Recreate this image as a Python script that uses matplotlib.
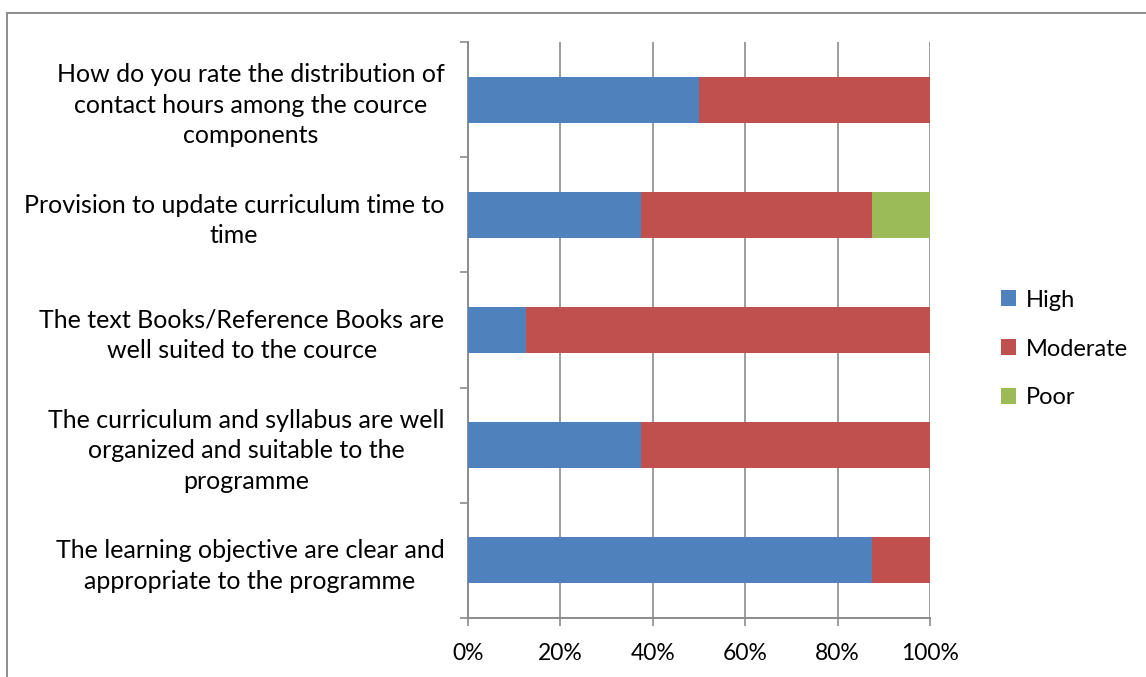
import matplotlib
matplotlib.use("Agg")
import matplotlib.pyplot as plt
from matplotlib.patches import Rectangle, Patch
import numpy as np

plt.rcParams['font.family'] = ['Lato', 'DejaVu Sans']

categories = [
    "How do you rate the distribution of\ncontact hours among the cource\ncomponents",
    "Provision to update curriculum time to\ntime",
    "The text Books/Reference Books are\nwell suited to the cource",
    "The curriculum and syllabus are well\norganized and suitable to the\nprogramme",
    "The learning objective are clear and\nappropriate to the programme",
]
series_names = ["High", "Moderate", "Poor"]
high = [50.0, 37.5, 12.5, 37.5, 87.5]
moderate = [50.0, 50.0, 87.5, 62.5, 12.5]
poor = [0.0, 12.5, 0.0, 0.0, 0.0]
colors = ["#4F81BD", "#C0504D", "#9BBB59"]
x_ticks = [0, 20, 40, 60, 80, 100]
x_tick_labels = ["0%", "20%", "40%", "60%", "80%", "100%"]

W, H = 1146, 677
fig = plt.figure(figsize=(W / 100, H / 100), dpi=100)
ax = fig.add_axes([468 / W, 1 - 618 / H, (930 - 468) / W, (618 - 42) / H])

y = np.arange(len(categories))
left = np.zeros(len(categories))
for vals, name, c in zip([high, moderate, poor], series_names, colors):
    vals = np.array(vals)
    ax.barh(y, vals, left=left, height=0.4, color=c, label=name, zorder=3)
    left += vals

ax.set_xlim(0, 100)
ax.set_ylim(len(categories) - 0.5, -0.5)

grey = "#8C8C8C"
ax.set_xticks(x_ticks)
ax.set_xticklabels(x_tick_labels, fontsize=16.5, color="black")
ax.xaxis.grid(True, color=grey, linewidth=1.2, zorder=0)
ax.tick_params(axis="x", length=6, width=1.2, color=grey, pad=12)

ax.set_yticks(y)
ax.set_yticklabels(categories, fontsize=18, color="black",
                   multialignment="center", linespacing=1.38)
ax.tick_params(axis="y", which="major", length=0, pad=17)
ax.set_yticks(np.arange(-0.5, len(categories)), minor=True)
ax.tick_params(axis="y", which="minor", length=6, width=1.2, color=grey)

for s in ["top", "right"]:
    ax.spines[s].set_visible(False)
for s in ["left", "bottom"]:
    ax.spines[s].set_color(grey)
    ax.spines[s].set_linewidth(1.4)

handles = [Patch(facecolor=c, edgecolor="none") for c in colors]
fig.legend(handles, series_names, loc="center left",
           bbox_to_anchor=(1001 / W, 1 - 349 / H), frameon=False,
           fontsize=17, handlelength=0.65, handleheight=0.65,
           handletextpad=0.4, labelspacing=1.18,
           borderpad=0, borderaxespad=0)

# outer chart border
fig.patches.append(Rectangle((7 / W, -0.05), 1.2, 1 - 13 / H + 0.05,
                             transform=fig.transFigure, fill=False,
                             edgecolor=grey, linewidth=1.4))

fig.savefig("out.png", dpi=100, facecolor="white")
